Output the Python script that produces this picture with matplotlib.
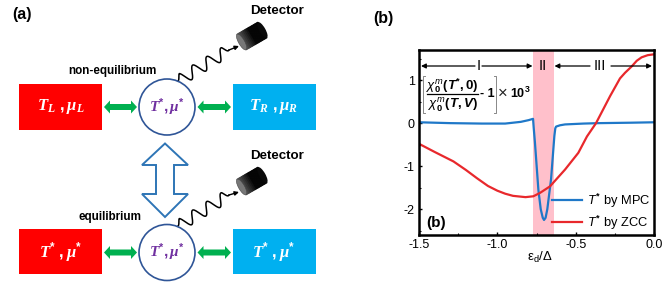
import numpy as np
import matplotlib
matplotlib.use('Agg')
import matplotlib.pyplot as plt
from matplotlib.patches import Rectangle, Circle, Polygon, FancyArrowPatch, Ellipse

plt.rcParams['font.family'] = ['Liberation Sans', 'DejaVu Sans']
plt.rcParams['mathtext.fontset'] = 'custom'
plt.rcParams['mathtext.rm'] = 'Liberation Sans:bold'
plt.rcParams['mathtext.it'] = 'Liberation Sans:italic'
plt.rcParams['mathtext.bf'] = 'Liberation Serif:italic:bold'
plt.rcParams['mathtext.bfit'] = 'Liberation Sans:italic:bold'

# curves
mpc_x = [-1.5, -1.3, -1.1, -0.95, -0.85, -0.80, -0.772, -0.768, -0.76, -0.738, -0.723, -0.71, -0.702,
         -0.692, -0.681, -0.657, -0.636, -0.630, -0.625, -0.60, -0.568, -0.45, -0.35, -0.15, 0.0]
mpc_y = [0.02, 0.0, -0.01, -0.01, 0.03, 0.07, 0.10, -0.10, -0.45, -1.55, -2.0, -2.2, -2.25,
         -2.2, -2.0, -1.3, -0.30, -0.12, -0.08, -0.05, -0.03, -0.01, 0.0, 0.01, 0.02]
zcc_x = [-1.5, -1.4, -1.28, -1.2, -1.13, -1.06, -1.0, -0.95, -0.9, -0.82, -0.77, -0.727, -0.664, -0.568,
         -0.483, -0.428, -0.37, -0.28, -0.217, -0.185, -0.142, -0.11, -0.079, -0.04, 0.0]
zcc_y = [-0.48, -0.67, -0.89, -1.09, -1.28, -1.46, -1.57, -1.64, -1.69, -1.72, -1.70, -1.62, -1.47, -1.08,
         -0.69, -0.31, 0.0, 0.63, 1.04, 1.17, 1.32, 1.45, 1.53, 1.58, 1.6]
x_ticks = [-1.5, -1.0, -0.5, 0.0]
x_labels = ['-1.5', '-1.0', '-0.5', '0.0']
y_ticks = [-2, -1, 0, 1]
y_labels = ['-2', '-1', '0', '1']
band = [-0.77, -0.638]

fig = plt.figure(figsize=(6.65, 2.82), dpi=100)

# overlay in pixel coordinates for the sketch in (a)
bg = fig.add_axes([0, 0, 1, 1])
bg.set_xlim(0, 665)
bg.set_ylim(282, 0)
bg.axis('off')

RED = '#ff0000'
BLUE = '#00b0f0'
GREEN = '#00b050'
NAVY = '#2f5597'
PURPLE = '#7030a0'


def detector(cx, cy):
    ang = np.deg2rad(-30)
    ux, uy = np.cos(ang), np.sin(ang)
    vx, vy = -uy, ux
    n = 14
    for i in range(n):
        s0 = -12 + 24 * i / n
        s1 = -12 + 24 * (i + 1) / n
        g = 0.35 - 0.33 * min(1, 2 * i / n)
        bg.add_patch(Polygon([(cx + ux * s0 - vx * 9, cy + uy * s0 - vy * 9),
                              (cx + ux * s1 - vx * 9, cy + uy * s1 - vy * 9),
                              (cx + ux * s1 + vx * 9, cy + uy * s1 + vy * 9),
                              (cx + ux * s0 + vx * 9, cy + uy * s0 + vy * 9)],
                             fc=(g, g, g), ec=(g, g, g), lw=0.8, zorder=3))
    bg.add_patch(Ellipse((cx + ux * 12, cy + uy * 12), 6, 18, angle=-30, fc='#0a0a0a', ec='none', zorder=3))
    bg.add_patch(Ellipse((cx - ux * 12, cy - uy * 12), 6, 18, angle=-30, fc='#777777', ec='#444444', lw=0.4, zorder=4))


def wave(x0, y0, x1, y1, tipx, tipy):
    t = np.linspace(0, 1, 200)
    dx, dy = x1 - x0, y1 - y0
    L = np.hypot(dx, dy)
    off = 6 * np.sin(2 * np.pi * 3.6 * t) * np.minimum(1, np.minimum(t, 1 - t) * 12)
    xs = x0 + dx * t + off * dy / L
    ys = y0 + dy * t - off * dx / L
    bg.plot(xs, ys, color='black', lw=1.1, zorder=2)
    bg.add_patch(FancyArrowPatch((x1, y1), (tipx, tipy), arrowstyle='-|>', mutation_scale=6,
                                 color='black', lw=1.0, shrinkA=0, shrinkB=0, zorder=2))


def green_arrow(a, b, cy):
    bg.add_patch(Polygon([(a, cy), (a + 6, cy - 6.5), (a + 6, cy - 3), (b - 6, cy - 3), (b - 6, cy - 6.5),
                          (b, cy), (b - 6, cy + 6.5), (b - 6, cy + 3), (a + 6, cy + 3), (a + 6, cy + 6.5)],
                         closed=True, fc=GREEN, ec='none', zorder=2))


def row(top, h, cy, l_label, c_label, r_label):
    bg.add_patch(Rectangle((19, top), 83, h, fc=RED, ec='none'))
    bg.add_patch(Rectangle((232.5, top), 83, h, fc=BLUE, ec='none'))
    bg.add_patch(Circle((167, cy), 28, fc='white', ec=NAVY, lw=1.2, zorder=2.5))
    green_arrow(104, 137, cy)
    green_arrow(197.5, 231, cy)
    bg.text(60.5, cy, l_label, color='white', fontsize=12, ha='center', va='center')
    bg.text(167, cy, c_label, color=PURPLE, fontsize=11, ha='center', va='center', zorder=5)
    bg.text(274, cy, r_label, color='white', fontsize=12, ha='center', va='center')


row(84, 46, 107, r'$\mathbf{T}_{\mathbf{L}}\ ,\mathbf{\mu}_{\mathbf{L}}$', r'$\mathbf{T}^{*},\mathbf{\mu}^{*}$',
    r'$\mathbf{T}_{\mathbf{R}}\ ,\mathbf{\mu}_{\mathbf{R}}$')
row(229, 45, 252.5, r'$\mathbf{T}^{*}\ ,\mathbf{\mu}^{*}$', r'$\mathbf{T}^{*},\mathbf{\mu}^{*}$',
    r'$\mathbf{T}^{*}\ ,\mathbf{\mu}^{*}$')

# big hollow double arrow
bg.add_patch(Polygon([(165, 143.5), (188, 165), (174, 165), (174, 194), (188, 194), (165, 217),
                      (142, 194), (156, 194), (156, 165), (142, 165)],
                     closed=True, fc='white', ec='#2e75b6', lw=1.4))

wave(178, 81, 229, 50, 239, 46)
wave(178, 226, 229, 195, 239, 192)
detector(252, 36)
detector(252, 181)

bg.text(277, 11, 'Detector', fontsize=9.6, fontweight='bold', ha='center', va='center')
bg.text(277, 156, 'Detector', fontsize=9.6, fontweight='bold', ha='center', va='center')
bg.text(112.5, 71, 'non-equilibrium', fontsize=8.4, fontweight='bold', ha='center', va='center')
bg.text(110, 217, 'equilibrium', fontsize=8.4, fontweight='bold', ha='center', va='center')
bg.text(22, 15, '(a)', fontsize=11.5, fontweight='bold', ha='center', va='center')
bg.text(383.5, 19, '(b)', fontsize=11.5, fontweight='bold', ha='center', va='center')

# panel (b)
ax = fig.add_axes([419 / 665, 1 - 235 / 282, 235 / 665, 185 / 282])
ax.set_xlim(-1.5, 0.0)
ax.set_ylim(-2.6, 1.7)
ax.axvspan(band[0], band[1], color='#ffc0cb', lw=0)
ax.plot(mpc_x, mpc_y, color='#1f78c8', lw=1.6, label=r'$T^{*}$ by MPC')
ax.plot(zcc_x, zcc_y, color='#e8282c', lw=1.6, label=r'$T^{*}$ by ZCC')
ax.set_xticks(x_ticks)
ax.set_xticklabels(x_labels)
ax.set_yticks(y_ticks)
ax.set_yticklabels(y_labels)
ax.set_xticks([-1.25, -0.75, -0.25], minor=True)
ax.set_yticks([-2.5, -1.5, -0.5, 0.5, 1.5], minor=True)
ax.tick_params(axis='both', direction='in', labelsize=9, length=2.5, width=1, pad=3)
ax.tick_params(which='minor', direction='in', length=1.5, width=0.8)
ax.set_xlabel(r'$\mathregular{\varepsilon_d/\Delta}$', fontsize=9.5)
ax.xaxis.set_label_coords(0.515, -0.08)
for s in ax.spines.values():
    s.set_linewidth(1.8)
ax.legend(loc='lower right', bbox_to_anchor=(1.0, 0.0), frameon=False, fontsize=9.3, handlelength=2.3,
          labelspacing=0.3, handletextpad=0.45, borderaxespad=0.0, borderpad=0.25)

# annotations over the plot, again in pixels
fg = fig.add_axes([0, 0, 1, 1], zorder=5)
fg.set_xlim(0, 665)
fg.set_ylim(282, 0)
fg.axis('off')
for a, b in [(475, 421), (482, 532.5), (590, 554.5), (611, 652)]:
    fg.add_patch(FancyArrowPatch((a, 66), (b, 66), arrowstyle='-|>', mutation_scale=7,
                                 color='black', lw=0.9, shrinkA=0, shrinkB=0))
fg.text(478.5, 66, 'I', fontsize=10.5, ha='center', va='center')
fg.text(542.7, 66, 'II', fontsize=10.5, ha='center', va='center')
fg.text(600, 66, 'III', fontsize=10.5, ha='center', va='center')
fg.text(436, 222.5, '(b)', fontsize=11, fontweight='bold', ha='center', va='center')

# bracketed formula
fg.plot([425, 423, 423, 425], [76, 76, 113, 113], color='#888888', lw=0.7)
fg.plot([493.5, 495.5, 495.5, 493.5], [76, 76, 113, 113], color='#888888', lw=0.7)
fg.plot([427, 478], [94, 94], color='black', lw=0.9)
fg.text(452.5, 86, r'$\chi_{0}^{m}(\mathbfit{T}^{*},0)$', fontsize=9.5, ha='center', va='center')
fg.text(452.5, 105.5, r'$\chi_{0}^{m}(\mathbfit{T},\mathbfit{V})$', fontsize=9.5, ha='center', va='center')
fg.text(487.5, 94, '- 1', fontsize=9, fontweight='bold', ha='center', va='center')
fg.text(498, 93.5, '\u00d7', fontsize=12, ha='left', va='center', color='#222222')
fg.text(510, 93.5, '10$^{3}$', fontsize=9, fontweight='bold', ha='left', va='center')

fig.savefig('out.png', dpi=100)
